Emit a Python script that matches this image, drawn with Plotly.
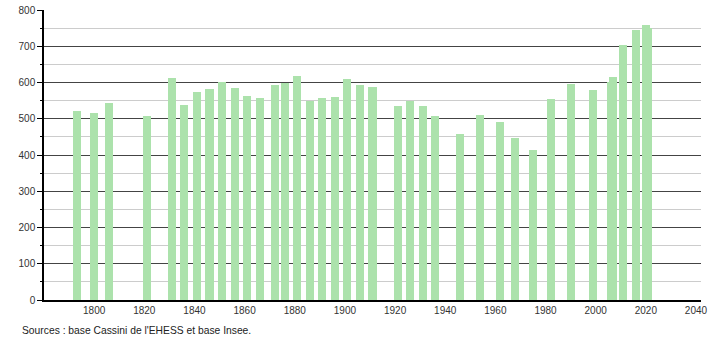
import plotly.graph_objects as go

years = [1793, 1800, 1806, 1821, 1831, 1836, 1841, 1846, 1851, 1856, 1861, 1866,
         1872, 1876, 1881, 1886, 1891, 1896, 1901, 1906, 1911, 1921, 1926, 1931,
         1936, 1946, 1954, 1962, 1968, 1975, 1982, 1990, 1999, 2006, 2007, 2011,
         2016, 2020, 2021]
population = [522, 516, 544, 507, 612, 538, 575, 583, 602, 585, 564, 557,
              593, 598, 619, 549, 557, 561, 611, 593, 587, 536, 549, 536,
              507, 457, 510, 491, 448, 413, 554, 596, 580, 601, 615, 704,
              745, 758, 750]
x_ticks = [1800, 1820, 1840, 1860, 1880, 1900, 1920, 1940, 1960, 1980, 2000, 2020, 2040]
source_text = "Sources : base Cassini de l'EHESS et base Insee."

font = "Liberation Sans, Arial, sans-serif"

fig = go.Figure()
fig.add_trace(go.Bar(
    x=years, y=population, width=3.2,
    marker=dict(color="rgb(172,226,172)", line=dict(width=0)),
    hoverinfo="x+y",
))

fig.update_layout(
    width=710, height=340,
    margin=dict(l=44, r=9, t=10, b=40, autoexpand=False),
    paper_bgcolor="white", plot_bgcolor="white",
    showlegend=False,
    font=dict(family=font, size=10, color="#333"),
    bargap=0,
)
fig.update_xaxes(
    range=[1780, 2042], automargin=False,
    tickvals=x_ticks,
    ticktext=[str(v) for v in x_ticks],
    showgrid=False, zeroline=False,
    showline=True, linecolor="#000", linewidth=1.5,
    ticks="", tickfont=dict(size=10, color="#333"),
)
fig.update_yaxes(
    range=[0, 800], automargin=False,
    dtick=100, tick0=0,
    showgrid=True, gridcolor="#444", gridwidth=1,
    zeroline=False,
    showline=True, linecolor="#000", linewidth=1.5,
    ticks="outside", ticklen=5, tickcolor="#000", tickwidth=1,
    tickfont=dict(size=10, color="#333"),
    minor=dict(dtick=50, tick0=0, showgrid=True, gridcolor="#cccccc", gridwidth=1,
               ticks="outside", ticklen=2, tickcolor="#000"),
)

fig.add_annotation(
    text=source_text, xref="paper", yref="paper",
    x=-0.037, y=-0.08, xanchor="left", yanchor="top",
    showarrow=False, font=dict(family=font, size=10.3, color="#222"),
)

fig.write_html("out.html")
